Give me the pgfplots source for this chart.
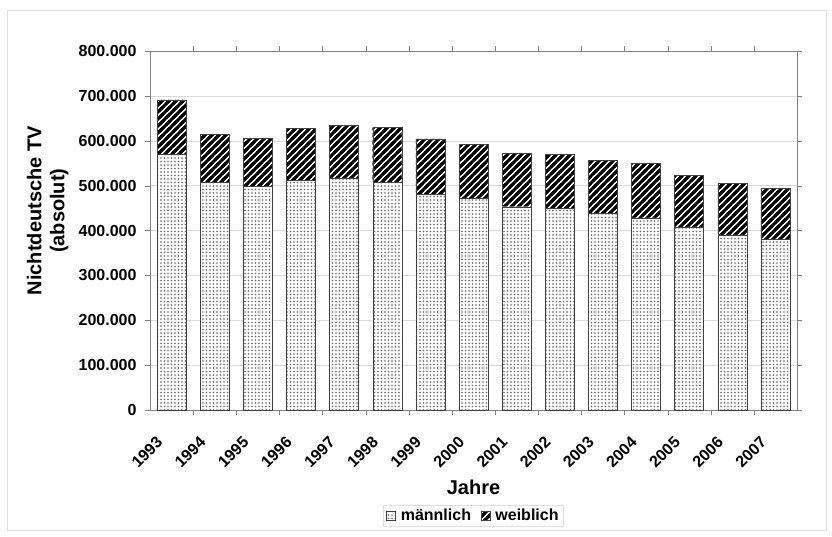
\documentclass[border=0pt]{standalone}
\usepackage{fontspec}
\setmainfont{Liberation Sans}
\usepackage{pgfplots}
\pgfplotsset{compat=1.18}
\usetikzlibrary{patterns}
\pgfdeclarepatternformonly{thickstripes}{\pgfqpoint{-1pt}{-1pt}}{\pgfqpoint{8pt}{8pt}}{\pgfqpoint{7pt}{7pt}}{%
  \pgfsetlinewidth{3.0pt}%
  \pgfpathmoveto{\pgfqpoint{-1pt}{-1pt}}\pgfpathlineto{\pgfqpoint{8pt}{8pt}}%
  \pgfpathmoveto{\pgfqpoint{-4.5pt}{2.5pt}}\pgfpathlineto{\pgfqpoint{4.5pt}{11.5pt}}%
  \pgfpathmoveto{\pgfqpoint{2.5pt}{-4.5pt}}\pgfpathlineto{\pgfqpoint{11.5pt}{4.5pt}}%
  \pgfusepath{stroke}}
\pgfdeclarepatternformonly{finedots}{\pgfqpoint{-1pt}{-1pt}}{\pgfqpoint{1pt}{1pt}}{\pgfqpoint{3.5pt}{3.5pt}}{%
  \pgfpathcircle{\pgfqpoint{0pt}{0pt}}{0.85pt}\pgfusepath{fill}}
\begin{document}
\begin{tikzpicture}
\useasboundingbox (-150pt,-126pt) rectangle (682pt,410pt);
\draw[gray!25] (-143pt,-120pt) rectangle (676pt,400pt);
\begin{axis}[
  at={(0pt,0pt)}, anchor=south west,
  scale only axis, width=647pt, height=359pt,
  ybar stacked, bar width=29pt,
  xmin=-0.5, xmax=14.5, ymin=0, ymax=800000,
  xtick={0,...,14},
  xticklabels={1993,1994,1995,1996,1997,1998,1999,2000,2001,2002,2003,2004,2005,2006,2007},
  x tick label style={xshift=-16pt, yshift=-19pt, rotate=45, anchor=north east, inner sep=1pt},
  minor x tick num=1,
  major x tick style={draw=none},
  minor x tick style={gray},
  ytick={0,100000,...,800000},
  yticklabels={0,{100.000},{200.000},{300.000},{400.000},{500.000},{600.000},{700.000},{800.000}},
  scaled y ticks=false,
  tick align=outside, major tick length=5pt, minor tick length=5pt,
  ytick style={gray},
  ymajorgrids, grid style={gray!30},
  axis line style={gray},
  ticklabel style={font=\fontsize{16pt}{18pt}\selectfont\bfseries},
  y tick label style={xshift=-5pt},
  xlabel={Jahre},
  xlabel style={at={(axis description cs:0.5,-0.2145)}, anchor=center, font=\fontsize{20pt}{22pt}\selectfont\bfseries},
  ylabel={Nichtdeutsche TV\\(absolut)},
  ylabel style={at={(axis description cs:-0.158,0.555)}, anchor=center, align=center, font=\fontsize{20pt}{23pt}\selectfont\bfseries},
  legend columns=2,
  legend style={at={(axis description cs:0.5,-0.294)}, anchor=center, draw=gray!25,
    font=\fontsize{16pt}{18pt}\selectfont\bfseries,
    /tikz/every odd column/.append style={column sep=3pt},
    /tikz/every even column/.append style={column sep=8pt}},
  legend image code/.code={\draw[#1] (0pt,-4.5pt) rectangle (9pt,4.5pt);},
]
\addplot[draw=black!75, fill=white, postaction={pattern=finedots, pattern color=black!60}] coordinates {
(0,570000) (1,508000) (2,498000) (3,512000) (4,517000) (5,508000) (6,480000) (7,471000)
(8,453000) (9,450000) (10,439000) (11,428000) (12,408000) (13,390000) (14,380000)};
\addplot[draw=black!75, fill=white, postaction={pattern=thickstripes, pattern color=black}] coordinates {
(0,121000) (1,107000) (2,108000) (3,116000) (4,118000) (5,122000) (6,124000) (7,121000)
(8,119000) (9,119000) (10,118000) (11,122000) (12,115000) (13,115000) (14,114000)};
\legend{männlich, weiblich}
\end{axis}
\end{tikzpicture}
\end{document}
